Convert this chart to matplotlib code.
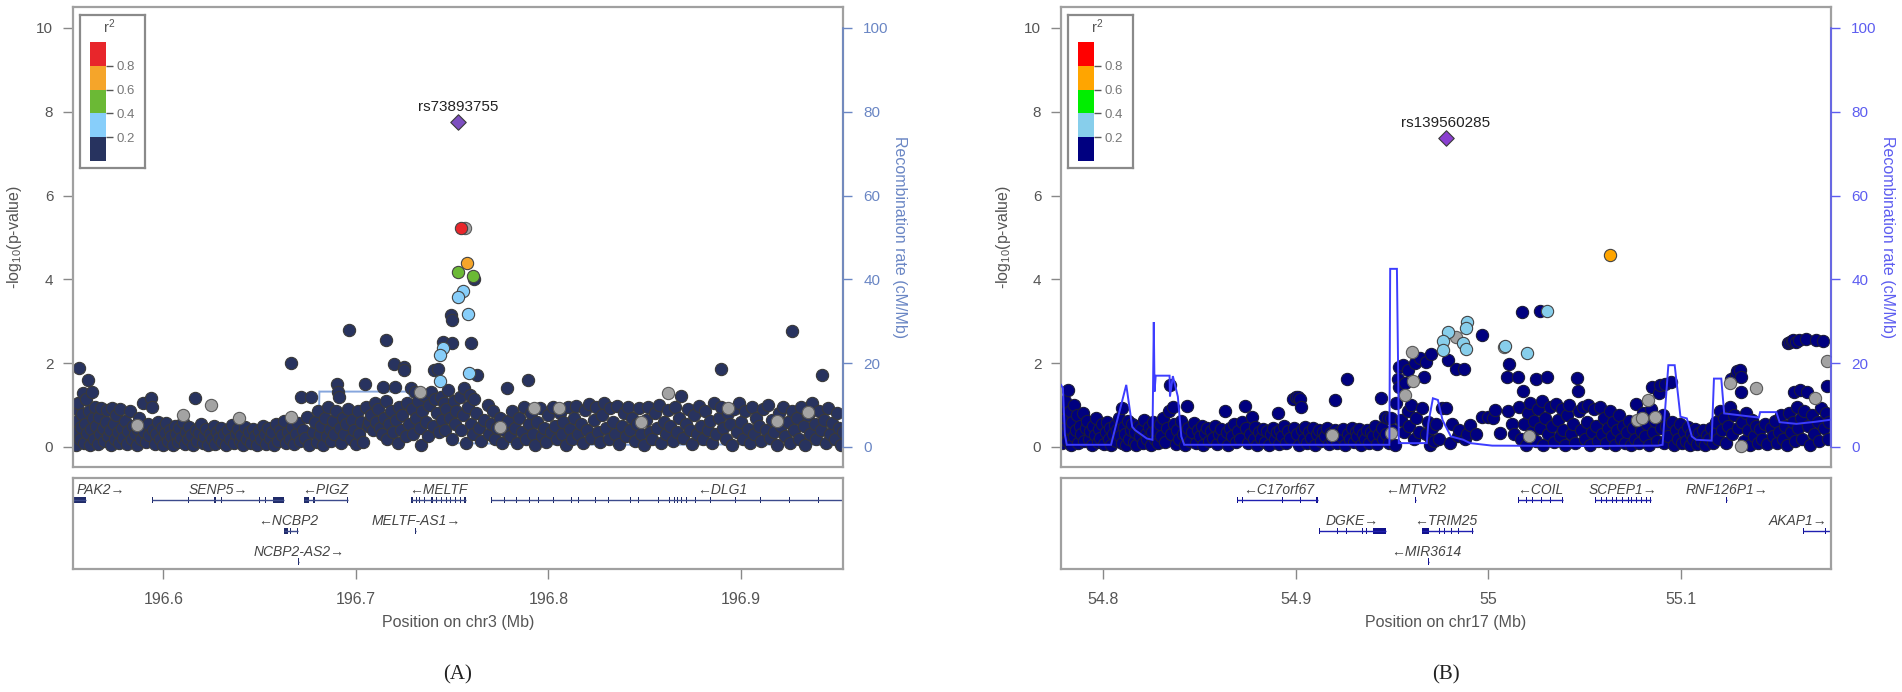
import matplotlib
matplotlib.use("Agg")
import matplotlib.pyplot as plt
from matplotlib.patches import Rectangle
import matplotlib.transforms as mtransforms

plt.rcParams['font.family'] = ['Liberation Sans', 'DejaVu Sans']
plt.rcParams['mathtext.fontset'] = 'custom'
plt.rcParams['mathtext.rm'] = 'Liberation Sans'
plt.rcParams['mathtext.it'] = 'Liberation Sans:italic'

# ---------------------------------------------------------------- DATA (panel A, chr3)
a_xlim = (196.553, 196.953)
a_xticks = [196.6, 196.7, 196.8, 196.9]
a_xticklabels = ["196.6", "196.7", "196.8", "196.9"]
a_xlabel = "Position on chr3 (Mb)"
a_lead = (196.7532, 7.76, "rs73893755")

a_navy = [
    (196.5545,0.05),(196.5548,0.35),(196.5552,0.62),(196.5550,0.9),(196.5558,1.05),(196.5561,1.89),(196.5566,0.2),
    (196.5570,0.48),(196.5575,0.78),(196.5580,1.28),(196.5585,0.1),(196.5590,0.55),(196.5596,1.15),(196.5603,0.32),
    (196.5607,1.6),(196.5612,0.85),(196.5618,0.05),(196.5622,0.42),(196.5628,1.3),(196.5634,0.68),(196.5640,0.18),
    (196.5645,0.95),(196.5652,0.5),(196.5660,0.08),(196.5665,0.72),(196.5672,0.3),(196.5678,0.92),(196.5685,0.45),
    (196.5692,0.15),(196.5700,0.6),
    (196.5708,0.88),(196.5712,0.25),(196.5720,0.4),(196.5728,0.05),(196.5735,0.92),(196.5741,0.55),(196.5748,0.2),
    (196.5755,0.75),(196.5762,0.35),(196.5770,0.1),(196.5776,0.9),(196.5785,0.45),(196.5792,0.22),(196.5800,0.62),
    (196.5810,0.08),(196.5818,0.38),(196.5826,0.85),(196.5835,0.18),(196.5842,0.5),(196.5850,0.3),(196.5860,0.05),
    (196.5868,0.42),(196.5875,0.7),(196.5884,0.2),(196.5892,1.05),(196.5900,0.35),(196.5910,0.12),(196.5918,0.55),
    (196.5926,0.28),(196.5935,1.16),(196.5938,0.95),(196.5945,0.4),(196.5955,0.08),(196.5962,0.3),(196.5970,0.6),
    (196.5980,0.18),(196.5990,0.45),(196.5998,0.05),
    (196.6008,0.32),(196.6015,0.58),(196.6025,0.15),(196.6032,0.4),(196.6040,0.25),(196.6050,0.05),(196.6058,0.5),
    (196.6066,0.3),(196.6075,0.12),(196.6083,0.45),(196.6092,0.22),(196.6100,0.6),(196.6110,0.08),(196.6118,0.35),
    (196.6126,0.18),(196.6135,0.48),(196.6145,0.28),(196.6155,0.05),(196.6162,1.16),(196.6168,0.4),(196.6175,0.15),
    (196.6185,0.32),(196.6195,0.55),(196.6205,0.1),(196.6212,0.25),(196.6222,0.42),(196.6230,0.05),(196.6240,0.3),
    (196.6250,0.18),(196.6260,0.5),(196.6270,0.08),(196.6278,0.35),(196.6288,0.22),(196.6298,0.45),(196.6305,0.12),
    (196.6315,0.3),(196.6325,0.05),(196.6335,0.4),(196.6345,0.2),(196.6355,0.52),(196.6365,0.1),(196.6375,0.3),
    (196.6385,0.42),(196.6395,0.15),
    (196.6405,0.28),(196.6415,0.05),(196.6425,0.48),(196.6435,0.2),(196.6445,0.35),(196.6455,0.1),(196.6465,0.42),
    (196.6475,0.25),(196.6485,0.05),(196.6495,0.38),(196.6505,0.18),(196.6515,0.5),(196.6525,0.3),(196.6535,0.08),
    (196.6545,0.45),(196.6555,0.22),(196.6565,0.35),(196.6575,0.05),(196.6585,0.55),(196.6595,0.15),(196.6605,0.4),
    (196.6615,0.28),(196.6625,0.62),(196.6635,0.1),(196.6645,0.35),(196.6655,0.2),(196.6660,2.01),(196.6668,0.48),
    (196.6678,0.08),(196.6688,0.3),(196.6698,0.58),(196.6708,0.15),(196.6716,1.18),(196.6725,0.4),(196.6735,0.22),
    (196.6745,0.72),(196.6755,0.05),(196.6767,1.18),(196.6775,0.35),(196.6785,0.6),(196.6795,0.12),
    (196.6805,0.85),(196.6812,0.3),(196.6820,0.5),(196.6830,0.05),(196.6840,0.7),(196.6848,0.25),(196.6856,0.95),
    (196.6865,0.42),(196.6872,0.15),(196.6880,0.62),(196.6888,0.3),(196.6895,0.85),(196.6902,1.49),(196.6907,1.32),
    (196.6910,1.2),(196.6915,0.45),(196.6922,0.1),(196.6930,0.7),(196.6940,0.3),(196.6950,0.55),(196.6958,0.9),
    (196.6966,2.8),(196.6972,0.2),(196.6980,0.65),(196.6990,0.4),(196.7000,0.08),(196.7008,0.85),(196.7015,0.3),
    (196.7025,0.6),(196.7035,0.12),(196.7047,1.49),(196.7050,0.95),(196.7060,0.5),(196.7070,0.6),(196.7080,0.75),
    (196.7090,0.4),(196.7098,1.05),
    (196.7105,0.6),(196.7115,0.9),(196.7125,0.45),(196.7140,1.44),(196.7135,0.3),(196.7145,0.7),(196.7154,2.56),
    (196.7155,1.1),(196.7162,0.2),(196.7170,0.55),(196.7180,0.85),(196.7190,0.35),(196.7200,1.99),(196.7205,1.44),
    (196.7210,0.65),(196.7218,0.1),(196.7225,0.95),(196.7232,0.4),(196.7240,0.75),(196.7250,1.90),(196.7251,1.83),
    (196.7258,0.25),(196.7265,1.05),(196.7275,0.55),(196.7285,1.40),(196.7290,0.9),(196.7298,0.3),(196.7305,1.32),
    (196.7312,0.7),(196.7320,1.1),(196.7330,0.45),(196.7340,0.05),(196.7345,0.85),(196.7355,1.25),(196.7365,0.6),
    (196.7372,0.25),(196.7380,1.0),(196.7390,1.3),(196.7398,0.5),(196.7404,1.83),(196.7410,1.15),(196.7420,0.8),
    (196.7427,1.85),(196.7430,0.35),(196.7440,1.2),(196.7448,0.65),(196.7454,2.51),(196.7455,1.05),(196.7462,0.4),
    (196.7470,0.9),(196.7480,1.35),(196.7490,0.7),(196.7494,3.14),(196.7497,3.02),(196.7497,2.47),(196.7500,0.2),
    (196.7508,1.1),(196.7515,0.55),(196.7522,0.85),
    (196.7538,1.2),(196.7545,0.4),(196.7555,0.75),(196.7562,1.4),(196.7570,0.1),(196.7580,0.95),(196.7590,1.25),
    (196.7597,2.47),(196.7600,0.55),(196.7608,0.3),(196.7615,1.15),(196.7615,4.0),(196.7630,1.71),(196.7625,0.8),
    (196.7640,0.45),(196.7652,0.15),(196.7665,0.65),(196.7685,1.0),(196.7690,0.3),(196.7700,0.55),(196.7712,0.85),
    (196.7722,0.2),(196.7735,0.45),(196.7748,0.7),(196.7760,0.1),(196.7770,0.4),(196.7787,1.4),(196.7792,0.62),
    (196.7800,0.25),(196.7812,0.85),(196.7825,0.45),(196.7835,0.1),(196.7848,0.7),(196.7860,0.35),(196.7872,0.95),
    (196.7885,0.2),(196.7894,1.60),(196.7898,0.55),
    (196.7910,0.8),(196.7920,0.3),(196.7932,0.05),(196.7942,0.6),(196.7955,0.92),(196.7965,0.25),(196.7975,0.45),
    (196.7988,0.12),(196.8000,0.75),(196.8012,0.35),(196.8022,0.95),(196.8035,0.5),(196.8045,0.18),(196.8058,0.82),
    (196.8068,0.3),(196.8078,0.6),(196.8090,0.05),(196.8100,0.95),(196.8112,0.42),(196.8122,0.2),(196.8135,0.7),
    (196.8145,0.98),(196.8155,0.3),(196.8168,0.55),(196.8178,0.1),(196.8190,0.88),(196.8200,0.4),(196.8212,1.02),
    (196.8222,0.22),(196.8235,0.65),(196.8245,0.95),(196.8255,0.35),(196.8268,0.12),(196.8278,0.75),(196.8290,1.05),
    (196.8300,0.45),(196.8312,0.2),(196.8322,0.92),(196.8335,0.6),(196.8345,0.3),(196.8358,0.98),(196.8368,0.08),
    (196.8380,0.5),(196.8390,0.8),(196.8402,0.25),(196.8412,0.95),(196.8425,0.4),(196.8435,0.7),(196.8448,0.15),
    (196.8458,0.55),(196.8470,0.92),(196.8482,0.3),
    (196.8495,0.05),(196.8505,0.65),(196.8518,0.95),(196.8528,0.35),(196.8540,0.2),(196.8552,0.8),(196.8562,0.45),
    (196.8575,1.0),(196.8585,0.1),(196.8598,0.6),(196.8608,0.3),(196.8620,0.88),(196.8632,0.5),(196.8645,0.15),
    (196.8655,0.95),(196.8668,0.35),(196.8680,0.7),(196.8690,1.21),(196.8700,0.22),(196.8712,0.55),(196.8725,0.9),
    (196.8735,0.4),(196.8748,0.08),(196.8758,0.75),(196.8770,0.3),(196.8782,0.98),(196.8792,0.5),(196.8805,0.18),
    (196.8815,0.85),(196.8828,0.4),(196.8840,0.62),(196.8850,0.1),(196.8862,1.05),(196.8872,0.3),(196.8885,0.7),
    (196.8896,1.86),(196.8897,0.95),(196.8908,0.45),(196.8920,0.2),(196.8930,0.8),(196.8942,0.55),(196.8955,0.05),
    (196.8965,0.9),(196.8978,0.35),(196.8990,1.05),(196.9000,0.6),(196.9012,0.2),(196.9022,0.85),(196.9035,0.42),
    (196.9045,0.1),(196.9058,0.95),(196.9068,0.3),(196.9080,0.7),(196.9092,0.5),(196.9105,0.15),(196.9115,0.9),
    (196.9128,0.4),(196.9138,1.0),(196.9150,0.22),(196.9160,0.65),(196.9172,0.35),(196.9185,0.05),(196.9195,0.8),
    (196.9208,0.5),(196.9220,0.95),(196.9230,0.25),(196.9242,0.6),(196.9255,0.1),(196.9266,2.77),(196.9265,0.85),
    (196.9278,0.4),(196.9290,0.7),(196.9300,0.2),(196.9312,0.95),(196.9325,0.5),(196.9335,0.05),(196.9348,0.75),
    (196.9358,0.3),(196.9370,1.05),(196.9382,0.55),(196.9392,0.18),(196.9405,0.85),(196.9418,0.4),(196.9420,1.71),
    (196.9430,0.65),(196.9442,0.1),(196.9452,0.92),(196.9465,0.3),(196.9475,0.58),(196.9488,0.2),(196.9498,0.8),
    (196.9510,0.45),(196.9520,0.05),(196.9528,0.35),
]
a_gray = [(196.5861,0.52),(196.6101,0.76),(196.6247,0.99),(196.6390,0.69),(196.6665,0.71),(196.7330,1.3),
          (196.7567,5.22),(196.7750,0.47),(196.7927,0.93),(196.8054,0.94),(196.8620,1.28),(196.8933,0.93),
          (196.9186,0.62),(196.9350,0.84),(196.8480,0.6)]
a_ld02_04 = [(196.7555,3.72),(196.7529,3.58),(196.7580,3.17),(196.7454,2.36),(196.7437,2.2),(196.7589,1.77),
             (196.7437,1.58)]
a_ld04_06 = [(196.7532,4.17),(196.7607,4.07)]
a_ld06_08 = [(196.7575,4.40)]
a_ld08_10 = [(196.7546,5.22)]

a_recomb_pos = [196.553, 196.5545, 196.5555, 196.5565, 196.600, 196.650, 196.6805, 196.6810, 196.7275,
                196.7280, 196.7515, 196.7520, 196.800, 196.850, 196.900, 196.953]
a_recomb_rate = [7.5, 8.4, 3.0, 0.7, 0.6, 0.7, 0.8, 13.2, 13.2, 12.0, 12.0, 0.9, 0.6, 0.5, 0.6, 0.5]

a_gene_names = ["PAK2", "SENP5", "PIGZ", "MELTF", "DLG1", "NCBP2", "MELTF-AS1", "NCBP2-AS2"]
a_gene_start = [196.540, 196.5940, 196.6730, 196.7287, 196.7700, 196.6625, 196.7306, 196.6698]
a_gene_end = [196.5597, 196.6625, 196.6960, 196.7570, 197.000, 196.6700, 196.7314, 196.6705]
a_gene_row = [1, 1, 1, 1, 1, 2, 2, 3]
a_gene_strand = [1, 1, -1, -1, -1, -1, 1, 1]
a_gene_label_x = [196.5675, 196.6283, 196.6840, 196.7430, 196.8900, 196.6647, 196.7312, 196.6703]
a_gene_exons = [
    [(196.540, 196.5597)],
    [(196.5940, 196.5946), (196.6125, 196.6135), (196.6265, 196.6275), (196.6297, 196.6303), (196.6497, 196.6503),
     (196.6525, 196.6532), (196.6568, 196.6625)],
    [(196.6730, 196.6757), (196.6778, 196.6785), (196.6955, 196.6960)],
    [(196.7287, 196.7298), (196.7312, 196.7318), (196.7325, 196.7335), (196.7355, 196.7361), (196.7388, 196.7400),
     (196.7415, 196.7421), (196.7440, 196.7446), (196.7468, 196.7474), (196.7490, 196.7496), (196.7515, 196.7521),
     (196.7540, 196.7546), (196.7563, 196.7570)],
    [(196.7700, 196.7707), (196.7769, 196.7774), (196.7832, 196.7837), (196.7900, 196.7905), (196.7946, 196.7951),
     (196.8024, 196.8029), (196.8073, 196.8078), (196.8117, 196.8122), (196.8152, 196.8157), (196.8242, 196.8247),
     (196.8310, 196.8315), (196.8423, 196.8428), (196.8467, 196.8472), (196.8570, 196.8575), (196.8625, 196.8630),
     (196.8652, 196.8657), (196.8670, 196.8675), (196.8689, 196.8694), (196.8715, 196.8720), (196.8760, 196.8765),
     (196.8840, 196.8845), (196.8970, 196.8975), (196.9100, 196.9105), (196.9250, 196.9255), (196.9400, 196.9405)],
    [(196.6625, 196.6645), (196.6658, 196.6664), (196.6694, 196.6700)],
    [(196.7306, 196.7314)],
    [(196.6698, 196.6705)],
]

# ---------------------------------------------------------------- DATA (panel B, chr17)
b_xlim = (54.778, 55.178)
b_xticks = [54.8, 54.9, 55.0, 55.1]
b_xticklabels = ["54.8", "54.9", "55", "55.1"]
b_xlabel = "Position on chr17 (Mb)"
b_lead = (54.9780, 7.37, "rs139560285")

b_navy = [
    (54.7785,0.1),(54.7788,0.55),(54.7790,0.95),(54.7795,0.3),(54.7800,1.1),(54.7806,0.7),(54.7812,0.15),
    (54.7818,1.36),(54.7820,0.45),(54.7826,0.85),(54.7832,0.05),(54.7838,0.6),(54.7845,0.25),(54.7850,1.0),
    (54.7858,0.4),(54.7865,0.75),(54.7870,0.1),(54.7878,0.5),(54.7885,0.3),(54.7892,0.82),(54.7900,0.15),
    (54.7908,0.45),(54.7915,0.62),(54.7925,0.2),(54.7932,0.38),(54.7940,0.05),(54.7948,0.5),(54.7955,0.28),
    (54.7962,0.7),(54.7970,0.12),(54.7978,0.42),(54.7985,0.22),(54.7995,0.55),
    (54.8005,0.08),(54.8012,0.35),(54.8020,0.6),(54.8028,0.2),(54.8035,0.45),(54.8042,0.05),(54.8050,0.3),
    (54.8058,0.52),(54.8065,0.15),(54.8072,0.4),(54.8080,0.7),(54.8088,0.25),(54.8095,0.1),(54.8099,0.94),
    (54.8105,0.48),(54.8112,0.3),(54.8120,0.05),(54.8128,0.62),(54.8135,0.2),(54.8142,0.4),(54.8150,0.55),
    (54.8158,0.12),(54.8165,0.35),(54.8172,0.05),(54.8180,0.5),(54.8188,0.25),(54.8195,0.42),(54.8205,0.1),
    (54.8212,0.65),(54.8220,0.3),(54.8228,0.18),(54.8235,0.48),(54.8245,0.05),(54.8252,0.35),(54.8260,0.6),
    (54.8268,0.2),(54.8275,0.4),(54.8285,0.1),(54.8292,0.55),
    (54.8300,0.25),(54.8310,0.7),(54.8320,0.12),(54.8330,0.45),(54.8340,0.85),(54.8346,1.48),(54.8352,0.3),
    (54.8361,0.96),(54.8368,0.55),(54.8375,0.08),(54.8385,0.4),(54.8395,0.2),(54.8405,0.62),(54.8415,0.3),
    (54.8425,0.05),(54.8435,0.98),(54.8440,0.45),(54.8450,0.15),(54.8460,0.35),(54.8470,0.58),(54.8480,0.1),
    (54.8490,0.4),(54.8500,0.25),(54.8510,0.5),(54.8520,0.05),(54.8530,0.32),(54.8540,0.45),(54.8550,0.15),
    (54.8560,0.38),(54.8570,0.22),(54.8580,0.5),(54.8590,0.08),(54.8600,0.3),(54.8610,0.42),(54.8620,0.18),
    (54.8634,0.86),(54.8640,0.35),(54.8650,0.05),(54.8660,0.45),(54.8670,0.25),(54.8680,0.55),(54.8690,0.12),
    (54.8700,0.38),(54.8710,0.2),(54.8720,0.6),(54.8736,0.98),(54.8740,0.45),(54.8750,0.1),(54.8760,0.3),
    (54.8770,0.72),(54.8780,0.2),(54.8790,0.48),
    (54.8800,0.05),(54.8810,0.35),(54.8820,0.22),(54.8830,0.42),(54.8840,0.12),(54.8850,0.38),(54.8860,0.05),
    (54.8870,0.3),(54.8880,0.45),(54.8890,0.18),(54.8900,0.35),(54.8905,0.8),(54.8910,0.08),(54.8920,0.4),
    (54.8930,0.25),(54.8940,0.5),(54.8950,0.1),(54.8960,0.38),(54.8970,0.22),(54.8985,1.15),(54.8990,0.45),
    (54.9000,1.2),(54.9008,0.3),(54.9012,1.18),(54.9018,0.05),(54.9022,1.15),(54.9025,0.95),(54.9030,0.4),
    (54.9040,0.2),(54.9050,0.48),(54.9060,0.1),(54.9070,0.35),(54.9080,0.22),(54.9090,0.45),(54.9100,0.05),
    (54.9110,0.3),(54.9120,0.4),(54.9130,0.15),(54.9140,0.35),(54.9150,0.25),(54.9160,0.45),(54.9170,0.08),
    (54.9180,0.32),(54.9190,0.2),(54.9203,1.12),(54.9205,0.4),(54.9215,0.1),(54.9225,0.35),(54.9235,0.25),
    (54.9245,0.42),(54.9255,0.05),(54.9264,1.62),(54.9270,0.3),(54.9280,0.2),(54.9290,0.45),(54.9300,0.12),
    (54.9310,0.35),(54.9320,0.25),(54.9330,0.42),(54.9340,0.05),(54.9350,0.3),(54.9360,0.2),(54.9370,0.4),
    (54.9380,0.1),(54.9390,0.35),(54.9400,0.25),(54.9410,0.5),(54.9420,0.08),(54.9430,0.3),(54.9443,1.16),
    (54.9445,0.45),(54.9455,0.2),
    (54.9462,0.72),(54.9470,0.3),(54.9478,0.7),(54.9485,0.1),(54.9495,0.68),(54.9505,0.4),(54.9515,0.05),
    (54.9520,1.04),(54.9532,1.61),(54.9534,1.44),(54.9537,1.91),(54.9545,0.65),(54.9558,1.95),(54.9560,0.35),
    (54.9567,1.53),(54.9583,1.83),(54.9582,0.85),(54.9590,0.5),(54.9600,1.0),(54.9612,0.2),(54.9617,2.01),
    (54.9625,0.7),(54.9640,0.35),(54.9643,2.11),(54.9655,0.92),(54.9666,1.67),(54.9678,2.03),(54.9675,0.3),
    (54.9685,0.6),(54.9695,0.05),(54.9704,2.21),(54.9705,0.45),(54.9718,0.15),(54.9730,0.55),(54.9745,0.2),
    (54.9760,0.92),(54.9780,0.94),(54.9789,2.07),(54.9800,0.1),(54.9812,0.55),(54.9830,1.87),(54.9840,0.25),
    (54.9850,0.4),(54.9875,1.87),(54.9880,0.2),(54.9890,0.3),
    (54.9905,0.52),(54.9935,0.31),(54.9968,2.67),(54.9968,0.72),(54.9998,0.72),(55.0022,0.68),(55.0035,0.88),
    (55.0062,0.33),(55.0095,1.67),(55.0100,0.85),(55.0107,1.99),(55.0125,0.55),(55.0135,0.3),(55.0152,1.66),
    (55.0160,0.95),(55.0170,0.2),(55.0177,3.22),(55.0180,1.33),(55.0185,0.55),(55.0195,0.05),(55.0205,0.8),
    (55.0215,1.05),(55.0225,0.35),(55.0235,0.62),(55.0245,1.63),(55.0250,0.15),(55.0260,0.9),(55.0266,3.24),
    (55.0270,0.45),(55.0280,1.1),(55.0285,0.05),(55.0295,0.7),(55.0306,1.66),(55.0310,0.3),(55.0320,0.95),
    (55.0330,0.5),(55.0340,0.12),(55.0350,1.02),(55.0360,0.65),(55.0370,0.25),(55.0380,0.9),(55.0390,0.4),
    (55.0400,0.05),(55.0410,0.75),(55.0420,1.0),(55.0430,0.3),(55.0440,0.55),(55.0450,0.1),(55.0463,1.64),
    (55.0467,1.33),(55.0470,0.85),(55.0480,0.4),(55.0490,0.95),(55.0500,0.2),(55.0510,0.6),(55.0520,1.0),
    (55.0530,0.05),(55.0540,0.35),(55.0550,0.9),(55.0560,0.5),(55.0570,0.15),(55.0580,0.95),(55.0590,0.3),
    (55.0600,0.7),(55.0610,0.1),(55.0620,0.45),(55.0630,0.85),(55.0640,0.25),(55.0650,0.6),(55.0660,0.05),
    (55.0670,0.4),(55.0680,0.75),(55.0690,0.2),(55.0700,0.5),(55.0710,0.1),(55.0720,0.35),(55.0730,0.62),
    (55.0740,0.05),
    (55.0750,0.45),(55.0760,0.2),(55.0767,1.02),(55.0775,0.6),(55.0785,0.1),(55.0795,0.38),(55.0805,0.8),
    (55.0815,0.25),(55.0825,0.55),(55.0835,0.05),(55.0845,0.9),(55.0850,1.43),(55.0855,0.35),(55.0865,0.62),
    (55.0875,0.15),(55.0886,1.28),(55.0890,1.48),(55.0895,0.45),(55.0905,0.75),(55.0915,0.1),(55.0920,1.51),
    (55.0925,0.5),(55.0935,0.25),(55.0950,1.56),(55.0955,0.6),(55.0965,0.05),(55.0975,0.4),(55.0985,0.2),
    (55.0995,0.55),(55.1005,0.1),(55.1015,0.35),(55.1025,0.15),(55.1035,0.48),(55.1045,0.05),(55.1055,0.3),
    (55.1065,0.2),(55.1075,0.42),(55.1085,0.08),(55.1095,0.32),(55.1105,0.15),(55.1115,0.4),(55.1125,0.05),
    (55.1135,0.28),(55.1145,0.18),(55.1155,0.45),(55.1165,0.1),(55.1175,0.3),(55.1185,0.6),(55.1195,0.2),
    (55.1205,0.85),(55.1215,0.4),(55.1225,0.7),(55.1235,0.1),(55.1245,0.5),(55.1255,0.95),(55.1260,1.63),
    (55.1265,0.3),(55.1275,0.75),(55.1286,1.71),(55.1290,1.81),(55.1295,0.45),(55.1307,1.83),(55.1310,1.66),
    (55.1315,1.32),
    (55.1320,0.6),(55.1330,0.15),(55.1340,0.8),(55.1350,0.4),(55.1360,0.05),(55.1370,0.65),(55.1380,0.25),
    (55.1390,0.5),(55.1400,0.1),(55.1410,0.42),(55.1420,0.2),(55.1435,0.55),(55.1450,0.08),(55.1470,0.45),
    (55.1480,0.25),(55.1490,0.62),(55.1500,0.1),(55.1510,0.35),(55.1520,0.75),(55.1530,0.2),(55.1540,0.5),
    (55.1550,0.05),(55.1557,2.48),(55.1560,0.8),(55.1565,2.5),(55.1570,0.35),(55.1575,2.52),(55.1580,0.6),
    (55.1585,2.55),(55.1590,1.32),(55.1595,0.15),(55.1600,2.5),(55.1605,0.95),(55.1610,0.45),(55.1615,2.54),
    (55.1620,1.35),(55.1625,0.7),(55.1630,0.2),(55.1640,0.85),(55.1650,2.57),(55.1655,1.32),(55.1660,0.5),
    (55.1670,0.05),(55.1680,0.75),(55.1690,0.3),(55.1700,2.55),(55.1710,0.6),(55.1720,0.15),(55.1730,0.92),
    (55.1739,2.52),(55.1745,0.45),(55.1755,0.8),(55.1760,1.45),(55.1765,0.2),(55.1772,0.6),
]
b_gray = [(54.9188,0.29),(54.9493,0.33),(54.9565,1.24),(54.9603,2.27),(54.9610,1.58),(54.9833,2.63),
          (55.0083,2.38),(55.0213,0.25),(55.0771,0.65),(55.0831,1.12),(55.0866,0.71),(55.0796,0.68),
          (55.1253,1.53),(55.1312,0.02),(55.1390,1.41),(55.1696,1.17),(55.1758,2.06)]
b_ld02_04 = [(54.9790,2.75),(54.9764,2.53),(54.9764,2.31),(54.9889,2.98),(54.9884,2.84),(54.9866,2.48),
             (54.9884,2.33),(55.0088,2.40),(55.0203,2.25),(55.0305,3.25)]
b_ld04_06 = []
b_ld06_08 = [(55.0632,4.57)]
b_ld08_10 = []

b_recomb_pos = [54.7780, 54.7790, 54.7800, 54.7810, 54.8040, 54.8068, 54.8119, 54.8150, 54.8165, 54.8226,
                54.8255, 54.8262, 54.8266, 54.8272, 54.8344, 54.8346, 54.8361, 54.8387, 54.8405, 54.8420,
                54.9000, 54.9486, 54.9490, 54.9525, 54.9532, 54.9535, 54.9680, 54.9688, 54.9712, 54.9738,
                54.9762, 54.9805, 54.9870, 54.9905, 55.0020, 55.0500, 55.0880, 55.0905, 55.0935, 55.0968,
                55.0998, 55.1031, 55.1057, 55.1080, 55.1160, 55.1172, 55.1210, 55.1225, 55.1405, 55.1412,
                55.1496, 55.1513, 55.1600, 55.1700, 55.1780]
b_recomb_rate = [14.8, 14.0, 3.0, 0.5, 0.5, 5.6, 14.8, 4.8, 4.0, 2.0,
                 1.7, 29.8, 13.2, 17.0, 17.0, 12.0, 16.9, 12.0, 2.5, 0.5,
                 0.5, 0.5, 42.5, 42.5, 16.0, 0.9, 0.9, 5.6, 11.6, 11.2,
                 6.4, 2.5, 1.7, 0.9, 0.3, 0.2, 0.3, 0.5, 19.5, 19.5,
                 7.2, 6.8, 2.5, 1.7, 1.5, 16.3, 16.3, 8.0, 7.0, 8.3,
                 8.3, 5.9, 5.5, 6.0, 6.5]

b_gene_names = ["C17orf67", "MTVR2", "COIL", "SCPEP1", "RNF126P1", "DGKE", "TRIM25", "AKAP1", "MIR3614"]
b_gene_start = [54.8696, 54.9617, 55.0156, 55.0554, 55.1232, 54.9119, 54.9657, 55.1633, 54.9688]
b_gene_end = [54.9113, 54.9623, 55.0390, 55.0847, 55.1238, 54.9466, 54.9920, 55.2000, 54.9692]
b_gene_row = [1, 1, 1, 1, 1, 2, 2, 2, 3]
b_gene_strand = [-1, -1, -1, 1, 1, 1, -1, 1, -1]
b_gene_label_x = [54.8909, 54.9620, 55.0268, 55.0701, 55.1238, 54.9290, 54.9781, 55.1610, 54.9679]
b_gene_exons = [
    [(54.8696, 54.8701), (54.8722, 54.8727), (54.8929, 54.8934), (54.9024, 54.9029), (54.9107, 54.9113)],
    [(54.9617, 54.9623)],
    [(55.0156, 55.0161), (55.0194, 55.0199), (55.0228, 55.0233), (55.0273, 55.0281), (55.0318, 55.0323),
     (55.0384, 55.0390)],
    [(55.0554, 55.0559), (55.0587, 55.0592), (55.0613, 55.0618), (55.0642, 55.0647), (55.0665, 55.0670),
     (55.0696, 55.0701), (55.0725, 55.0730), (55.0743, 55.0748), (55.0769, 55.0774), (55.0794, 55.0799),
     (55.0820, 55.0825), (55.0842, 55.0847)],
    [(55.1232, 55.1238)],
    [(54.9119, 54.9124), (54.9213, 54.9218), (54.9260, 54.9265), (54.9343, 54.9348), (54.9365, 54.9370),
     (54.9401, 54.9466)],
    [(54.9657, 54.9694), (54.9742, 54.9747), (54.9770, 54.9775), (54.9807, 54.9812), (54.9844, 54.9849),
     (54.9914, 54.9920)],
    [(55.1633, 55.1638), (55.1747, 55.1752)],
    [(54.9688, 54.9692)],
]

# ---------------------------------------------------------------- FIGURE
W, H = 1902, 692
fig = plt.figure(figsize=(W / 100, H / 100), dpi=100)


def axes_px(l, t, r, b):
    return fig.add_axes([l / W, 1 - b / H, (r - l) / W, (b - t) / H])


def draw_panel(left, tag, xlim, xticks, xticklabels, xlabel, lead, navy, gray, ld_lists,
               rpos, rrate, gnames, gstart, gend, grow, gstrand, glabx, gexons, st):
    right = left + 770
    ax = axes_px(left, 7, right, 467)
    ax.set_xlim(*xlim)
    ax.set_ylim(-0.48, 10.5)
    ax.set_xticks([])
    ax.set_yticks([0, 2, 4, 6, 8, 10])
    ax.tick_params(axis='y', length=7.2, width=1.0, color='#888888', pad=7,
                   labelsize=11, labelcolor='#555555')
    for sp in ax.spines.values():
        sp.set_color('#a0a0a0')
        sp.set_linewidth(1.6)

    # recombination line
    ax.plot(rpos, [r / 10.0 for r in rrate], color=st['rline'], lw=1.4,
            zorder=st['rz'], solid_joinstyle='miter')

    sz = 78
    def sc(pts, fc, ec, z):
        if pts:
            ax.scatter([p[0] for p in pts], [p[1] for p in pts], s=sz, c=fc,
                       edgecolors=ec, linewidths=0.8, zorder=z)
    sc(navy, st['navy'], st['edge'], 2)
    sc(gray, '#a3a3a3', '#5a5a5a', 3)
    for i, pts in enumerate(ld_lists):
        sc(pts, st['ld'][i + 1], '#444444', 4 + i)
    ax.scatter([lead[0]], [lead[1]], s=62, marker='D', c=st['lead'], edgecolors='#3a3a3a',
               linewidths=0.8, zorder=9)
    ax.annotate(lead[2], (lead[0], lead[1]), xytext=(0, 11), textcoords='offset points',
                ha='center', va='center', fontsize=11, color='#222222', zorder=10)

    # right axis
    ax2 = ax.twinx()
    ax2.set_ylim(-4.8, 105)
    ax2.set_yticks([0, 20, 40, 60, 80, 100])
    ax2.tick_params(axis='y', length=6.5, width=1.0, color=st['raxis'], pad=8,
                    labelsize=11, labelcolor=st['raxis'])
    for sp in ax2.spines.values():
        sp.set_visible(False)
    tr = mtransforms.blended_transform_factory(ax2.transAxes, ax2.transData)
    ax2.plot([1, 1], [0, 100], transform=tr, color=st['raxis'], lw=1.2, clip_on=False, zorder=20)

    fig.text((left - 58) / W, 1 - 237 / H, r'-log$_{10}$(p-value)', rotation=90, ha='center',
             va='center', fontsize=11.5, color='#555555')
    fig.text((right + 57) / W, 1 - 237 / H, 'Recombination rate (cM/Mb)', rotation=-90,
             ha='center', va='center', fontsize=11.5, color=st['raxis'])

    # r^2 legend
    box = axes_px(left + 7, 15, left + 72, 168)
    box.set_xticks([]); box.set_yticks([])
    box.set_xlim(0, 65); box.set_ylim(153, 0)
    for sp in box.spines.values():
        sp.set_color('#8a8a8a'); sp.set_linewidth(1.6)
    box.set_zorder(30)
    box.text(29, 12, r'r$^2$', ha='center', va='center', fontsize=10.5, color='#555555')
    cb = axes_px(left + 17, 42, left + 33, 161)
    cb.set_zorder(31)
    for i, c in enumerate(st['ld']):
        cb.add_patch(Rectangle((0, i * 0.2), 1, 0.2, color=c, lw=0))
    cb.set_xlim(0, 1); cb.set_ylim(0, 1)
    cb.set_xticks([])
    cb.yaxis.tick_right()
    cb.set_yticks([0.2, 0.4, 0.6, 0.8])
    cb.set_yticklabels(['0.2', '0.4', '0.6', '0.8'])
    cb.tick_params(axis='y', length=5, width=1.0, color='#555555', pad=2.5,
                   labelsize=9.5, labelcolor='#777777')
    for sp in cb.spines.values():
        sp.set_visible(False)

    # gene track
    gax = axes_px(left, 478, right, 569)
    gax.set_xlim(*xlim)
    gax.set_ylim(-3.23, -0.29)
    gax.set_yticks([])
    gax.set_xticks(xticks)
    gax.set_xticklabels(xticklabels)
    gax.tick_params(axis='x', length=7.2, width=1.0, color='#888888', pad=9,
                    labelsize=11.5, labelcolor='#555555')
    for sp in gax.spines.values():
        sp.set_color('#a0a0a0'); sp.set_linewidth(1.6)
    for k in range(len(gnames)):
        y = -grow[k]
        gax.plot([gstart[k], gend[k]], [y, y], color=st['gline'], lw=1.0, solid_capstyle='butt')
        for s, e in gexons[k]:
            gax.add_patch(Rectangle((s, y - 0.11), e - s, 0.22, color=st['gexon'], lw=0))
        lab = ('\u2190' + gnames[k]) if gstrand[k] < 0 else (gnames[k] + '\u2192')
        gax.text(glabx[k], y + 0.33, lab, ha='center', va='center', style='italic',
                 fontsize=10, color='#444444', clip_on=True)

    cx = (left + right) / 2
    fig.text(cx / W, 1 - 623 / H, xlabel, ha='center', va='center', fontsize=11.5, color='#555555')
    fig.text(cx / W, 1 - 675 / H, tag, ha='center', va='center', fontsize=15,
             family=['Liberation Serif', 'DejaVu Serif'], color='#222222')


style_a = dict(navy='#28335f', edge='#3a3a3a', lead='#7d4fc0', rline='#86a6dd', rz=1,
               raxis='#6a86c4', gline='#3c4a8c', gexon='#1f2a68',
               ld=['#27335f', '#87cefa', '#6bb935', '#f5a52a', '#e8262b'])
style_b = dict(navy='#000080', edge='#1c1c3a', lead='#8a3fd0', rline='#3d3dff', rz=6,
               raxis='#5d5df0', gline='#2020b0', gexon='#10108a',
               ld=['#000080', '#87ceeb', '#00ee00', '#ffa500', '#ff0000'])

draw_panel(73, '(A)', a_xlim, a_xticks, a_xticklabels, a_xlabel, a_lead, a_navy, a_gray,
           [a_ld02_04, a_ld04_06, a_ld06_08, a_ld08_10],
           a_recomb_pos, a_recomb_rate, a_gene_names, a_gene_start, a_gene_end, a_gene_row,
           a_gene_strand, a_gene_label_x, a_gene_exons, style_a)
draw_panel(1061, '(B)', b_xlim, b_xticks, b_xticklabels, b_xlabel, b_lead, b_navy, b_gray,
           [b_ld02_04, b_ld04_06, b_ld06_08, b_ld08_10],
           b_recomb_pos, b_recomb_rate, b_gene_names, b_gene_start, b_gene_end, b_gene_row,
           b_gene_strand, b_gene_label_x, b_gene_exons, style_b)

fig.savefig('out.png', dpi=100)
